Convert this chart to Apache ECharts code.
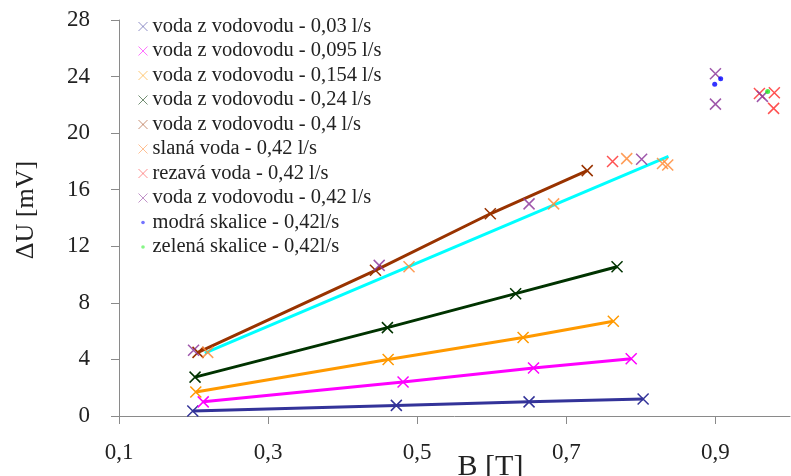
<!DOCTYPE html>
<html>
<head>
<meta charset="utf-8">
<script src="https://cdn.jsdelivr.net/npm/echarts@6/dist/echarts.min.js"></script>
<style>
  html, body { margin: 0; padding: 0; background: #fff; }
  #chart { width: 791px; height: 476px; }
</style>
</head>
<body>
<div id="chart"></div>
<script>
// series names (legend order)
const names = [
  'voda z vodovodu - 0,03 l/s',
  'voda z vodovodu - 0,095 l/s',
  'voda z vodovodu - 0,154 l/s',
  'voda z vodovodu - 0,24 l/s',
  'voda z vodovodu - 0,4 l/s',
  'slaná voda - 0,42 l/s',
  'rezavá voda - 0,42 l/s',
  'voda z vodovodu - 0,42 l/s',
  'modrá skalice - 0,42l/s',
  'zelená skalice - 0,42l/s'
];

// measured points: B [T] and ΔU [mV]
const b003 = [0.199, 0.472, 0.650, 0.803];
const u003 = [0.35, 0.75, 1.0, 1.2];
const b0095 = [0.213, 0.481, 0.656, 0.787];
const u0095 = [1.0, 2.4, 3.4, 4.05];
const b0154 = [0.203, 0.461, 0.642, 0.763];
const u0154 = [1.7, 4.0, 5.55, 6.7];
const b024 = [0.202, 0.460, 0.632, 0.768];
const u024 = [2.75, 6.25, 8.65, 10.55];
const b04 = [0.206, 0.444, 0.598, 0.728];
const u04 = [4.5, 10.3, 14.3, 17.35];
const bSlana = [0.219, 0.489, 0.683, 0.781, 0.829, 0.836];
const uSlana = [4.5, 10.55, 15.0, 18.2, 17.85, 17.75];
const bRezava = [0.762, 0.959, 0.979, 0.978];
const uRezava = [18.0, 22.8, 22.85, 21.75];
const b042 = [0.200, 0.449, 0.650, 0.801, 0.900, 0.900, 0.963];
const u042 = [4.65, 10.65, 15.0, 18.15, 24.2, 22.05, 22.6];
const bModra = [0.899, 0.907];
const uModra = [23.45, 23.85];
const bZelena = [0.970];
const uZelena = [22.95];
// cyan trend line (slaná voda)
const bTrend = [0.215, 0.837];
const uTrend = [4.45, 18.35];

const xTicks = [0.1, 0.3, 0.5, 0.7, 0.9];

const colors = ['#333399', '#ff00ff', '#ff9900', '#003300', '#993300',
  '#ff8c3a', '#ff3333', '#8e3a9c', '#0000ff', '#22ee22'];

const cross = 'path://M0,0L10,10M10,0L0,10';
const dot = 'path://M0,0M10,10M3,5a2,2 0 1,0 4,0a2,2 0 1,0 -4,0z';

const zip = (b, u) => b.map((v, i) => [v, u[i]]);

const fmt = v => v.toFixed(1).replace('.', ',');

const lineSeries = (i, b, u) => ({
  name: names[i],
  type: 'line',
  data: zip(b, u),
  symbol: cross,
  symbolSize: 11,
  lineStyle: { color: colors[i], width: 3 },
  itemStyle: { color: colors[i], borderColor: colors[i], borderWidth: 1.5 },
  z: 3
});

const crossSeries = (i, b, u) => ({
  name: names[i],
  type: 'scatter',
  data: zip(b, u),
  symbol: cross,
  symbolSize: 11,
  itemStyle: { color: colors[i], borderColor: colors[i], borderWidth: 1.5, opacity: 0.85 },
  z: 4
});

const dotSeries = (i, b, u) => ({
  name: names[i],
  type: 'scatter',
  data: zip(b, u),
  symbol: 'circle',
  symbolSize: 5,
  itemStyle: { color: colors[i] },
  z: 5
});

const chart = echarts.init(document.getElementById('chart'));

const option = {
  backgroundColor: '#ffffff',
  animation: false,
  grid: { left: 119, right: 1, top: 20, bottom: 60, containLabel: false, outerBoundsMode: 'none' },
  legend: {
    data: names.map((n, i) => ({ name: n, icon: i >= 8 ? dot : cross })),
    orient: 'vertical',
    left: 133,
    top: 11,
    itemWidth: 9,
    itemHeight: 9,
    itemGap: 3.5,
    itemStyle: { borderWidth: 1, opacity: 0.55 },
    textStyle: {
      fontFamily: 'Liberation Serif',
      fontSize: 20.5,
      lineHeight: 21,
      color: '#222'
    }
  },
  xAxis: {
    type: 'value',
    min: 0.1,
    max: 1.0,
    name: 'B [T]',
    nameLocation: 'middle',
    nameGap: 36,
    nameMoveOverlap: false,
    nameTextStyle: {
      fontFamily: 'Liberation Serif',
      fontSize: 30,
      color: '#222',
      verticalAlign: 'top',
      padding: [0, 0, 0, 72]
    },
    axisLine: { lineStyle: { color: '#8a8a8a', width: 1 } },
    axisTick: { show: true, length: 8, customValues: xTicks, lineStyle: { color: '#8a8a8a' } },
    axisLabel: {
      customValues: xTicks,
      margin: 25,
      fontFamily: 'Liberation Serif',
      fontSize: 23,
      color: '#222',
      formatter: fmt
    },
    splitLine: { show: false }
  },
  yAxis: {
    type: 'value',
    min: 0,
    max: 28,
    interval: 4,
    name: 'ΔU [mV]',
    nameLocation: 'middle',
    nameGap: 80,
    nameRotate: 90,
    nameMoveOverlap: false,
    nameTextStyle: {
      fontFamily: 'Liberation Serif',
      fontSize: 26,
      color: '#222',
      padding: [0, 0, 0, 16]
    },
    axisLine: { show: true, lineStyle: { color: '#8a8a8a', width: 1 } },
    axisTick: { show: true, length: 8, lineStyle: { color: '#8a8a8a' } },
    axisLabel: {
      margin: 29,
      fontFamily: 'Liberation Serif',
      fontSize: 23,
      color: '#222'
    },
    splitLine: { show: false }
  },
  series: [
    {
      name: 'trend',
      type: 'line',
      data: zip(bTrend, uTrend),
      symbol: 'none',
      lineStyle: { color: '#00ffff', width: 3 },
      z: 2
    },
    lineSeries(0, b003, u003),
    lineSeries(1, b0095, u0095),
    lineSeries(2, b0154, u0154),
    lineSeries(3, b024, u024),
    lineSeries(4, b04, u04),
    crossSeries(5, bSlana, uSlana),
    crossSeries(6, bRezava, uRezava),
    crossSeries(7, b042, u042),
    dotSeries(8, bModra, uModra),
    dotSeries(9, bZelena, uZelena)
  ]
};

chart.setOption(option);
</script>
</body>
</html>
